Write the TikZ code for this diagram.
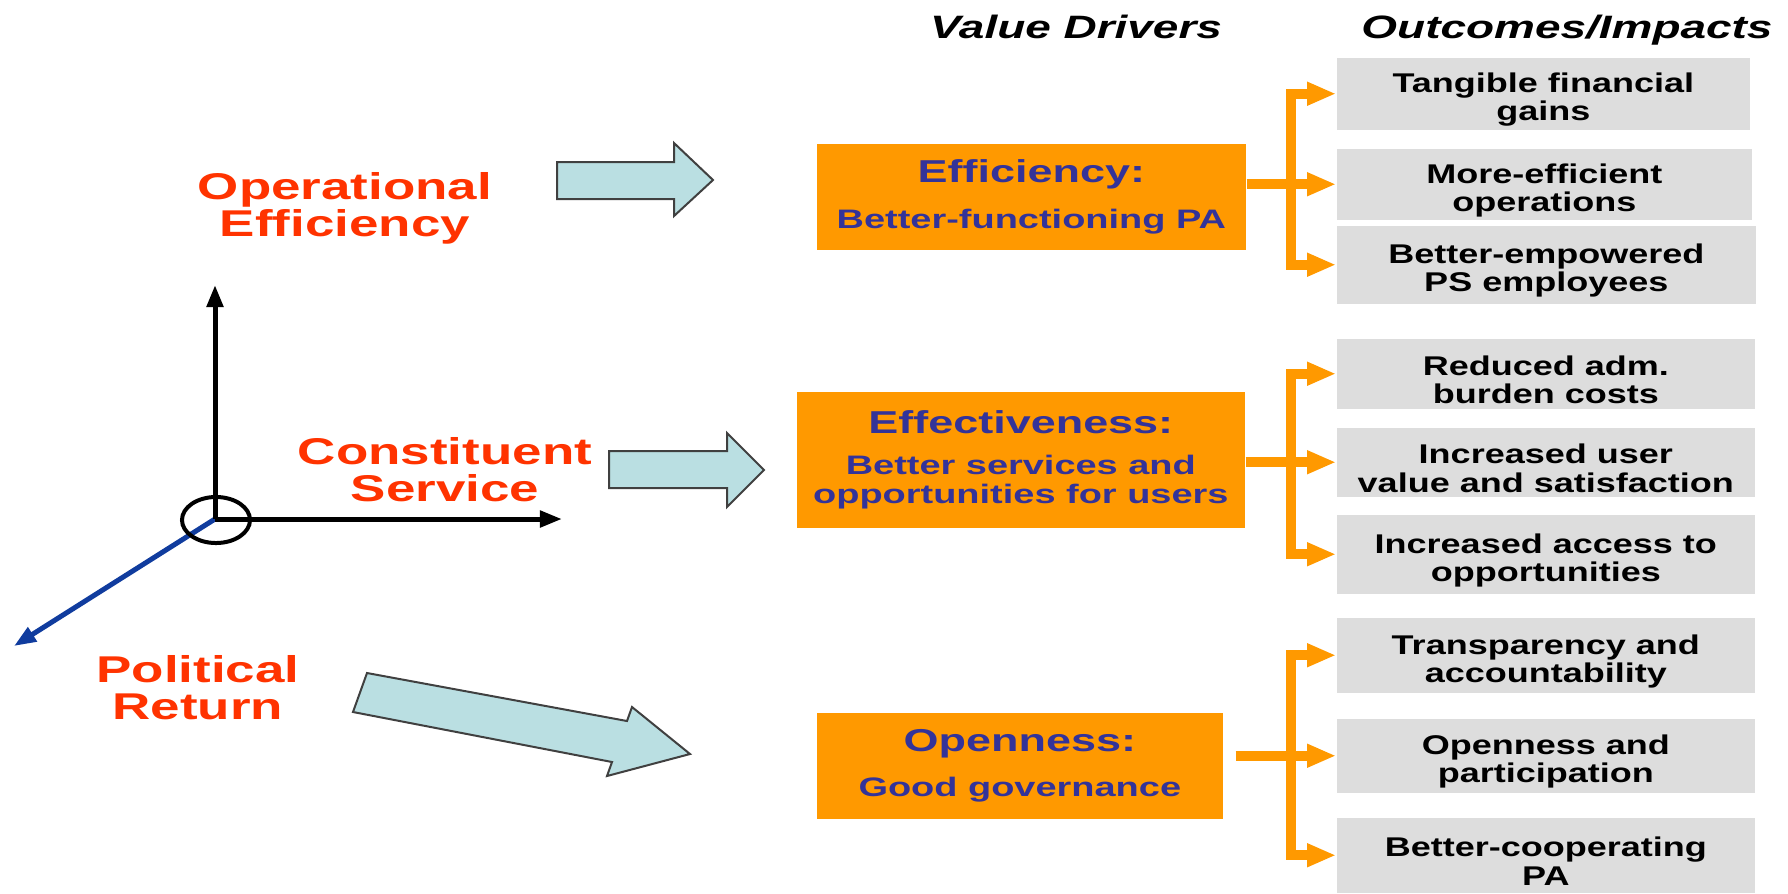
\documentclass[tikz,border=0pt]{standalone}
\usepackage{fontspec}
\usetikzlibrary{arrows.meta}
\setmainfont{Liberation Sans}
\newfontfamily\widefont[FakeStretch=1.42]{Liberation Sans}
\newfontfamily\narrowfont[FakeStretch=1.33]{Liberation Sans}
\definecolor{redtxt}{HTML}{FF3300}
\definecolor{bluetxt}{HTML}{333399}
\definecolor{orangebox}{HTML}{FF9900}
\definecolor{graybox}{HTML}{DDDDDD}
\definecolor{arrowfill}{HTML}{BADFE2}
\definecolor{axisblue}{HTML}{103C9E}
\newcommand\drivertitle[1]{{\fontsize{9}{9}\selectfont #1}}
\begin{document}
\begin{tikzpicture}[x=0.01cm,y=-0.01cm,
  redlabel/.style={text=redtxt,align=center,inner sep=0pt,font=\widefont\bfseries\fontsize{10.6}{10.6}\selectfont},
  head/.style={inner sep=0pt,anchor=base,font=\widefont\bfseries\itshape\fontsize{9.2}{9.2}\selectfont},
  driver/.style={fill=orangebox,text=bluetxt,align=center,inner sep=0pt,anchor=north west,font=\widefont\bfseries\fontsize{7.6}{8.25}\selectfont},
  outcome/.style={fill=graybox,inner sep=0pt,anchor=north west},
  boxtext/.style={align=center,inner sep=0pt,yshift=-0.06cm,font=\narrowfont\bfseries\fontsize{7.7}{8.05}\selectfont},
  block/.style={fill=arrowfill,draw=black!75,line width=0.02cm,line join=miter},
  link/.style={draw=orangebox,line width=0.1cm,-{Triangle[length=0.29cm,width=0.22cm]}},
  bar/.style={draw=orangebox,line width=0.1cm,line cap=rect},
  axis/.style={line width=0.05cm,-{Triangle[length=0.22cm,width=0.16cm]}}]
\useasboundingbox (0,0) rectangle (1788,893);
\node[head] (vd) at (1076,38) {Value Drivers};
\node[head] (oi) at (1567,38) {Outcomes/Impacts};
\foreach \n/\y/\w/\h/\t in {g1/57/4.13/0.72/{Tangible financial\\gains},
  g2/148/4.15/0.71/{More-efficient\\operations},
  g3/225/4.19/0.78/{Better-empowered\\PS employees},
  g4/338/4.18/0.70/{Reduced adm.\\burden costs},
  g5/427/4.18/0.69/{Increased user\\value and satisfaction},
  g6/514/4.18/0.79/{Increased access to\\opportunities},
  g7/617/4.18/0.75/{Transparency and\\accountability},
  g8/718/4.18/0.74/{Openness and\\participation},
  g9/817/4.18/0.75/{Better-cooperating\\PA}}
  \node[outcome,minimum width=\w cm,minimum height=\h cm,label={[boxtext]center:\t}] (\n) at (1336,\y) {};
\node[driver,minimum width=4.29cm,minimum height=1.06cm] (eff) at (816,143)
  {\drivertitle{Efficiency:}\\[4.8pt]Better-functioning PA};
\node[driver,minimum width=4.48cm,minimum height=1.36cm] (effv) at (796,391)
  {\drivertitle{Effectiveness:}\\[3.4pt]Better services and\\opportunities for users};
\node[driver,minimum width=4.06cm,minimum height=1.06cm] (open) at (816,712)
  {\drivertitle{Openness:}\\[4.8pt]Good governance};
\node[redlabel] (opeff) at (345,208) {Operational\\Efficiency};
\node[redlabel] (const) at (445,470) {Constituent\\Service};
\node[redlabel] (polit) at (198,688) {Political\\Return};
\draw[block] (557,162) -- (674,162) -- (674,143) -- (713,180) -- (674,216) -- (674,199) -- (557,199) -- cycle;
\draw[block] (609,451) -- (727,451) -- (727,433) -- (764,470) -- (727,507) -- (727,488) -- (609,488) -- cycle;
\draw[block] (367,673) -- (627,721) -- (632,707) -- (690,754) -- (607,776) -- (612,762) -- (353,712) -- cycle;
\coordinate (O) at (215,519);
\coordinate (ytip) at (215,285);
\coordinate (xtip) at (562,519);
\coordinate (ztip) at (14,646);
\draw[axis,draw=axisblue,fill=axisblue] (O) -- (ztip);
\draw[axis] (O) -- (ytip);
\draw[axis] (O) -- (xtip);
\draw[line width=0.04cm] (216,520) ellipse [x radius=0.34cm,y radius=0.23cm];
\coordinate (b) at (1291,0);
\draw[bar] (b |- g1.west) -- (b |- g3.west);
\draw[bar] (b |- g4.west) -- (b |- g6.west);
\draw[bar] (b |- g7.west) -- (b |- g9.west);
\foreach \g in {g1,g3,g4,g6,g7,g9} \draw[link] (b |- \g.west) -- (\g.west);
\draw[link] (eff.east |- g2.west) -- (g2.west);
\draw[link] (effv.east |- g5.west) -- (g5.west);
\draw[link,shorten <=0.12cm] (open.east |- g8.west) -- (g8.west);
\end{tikzpicture}
\end{document}
